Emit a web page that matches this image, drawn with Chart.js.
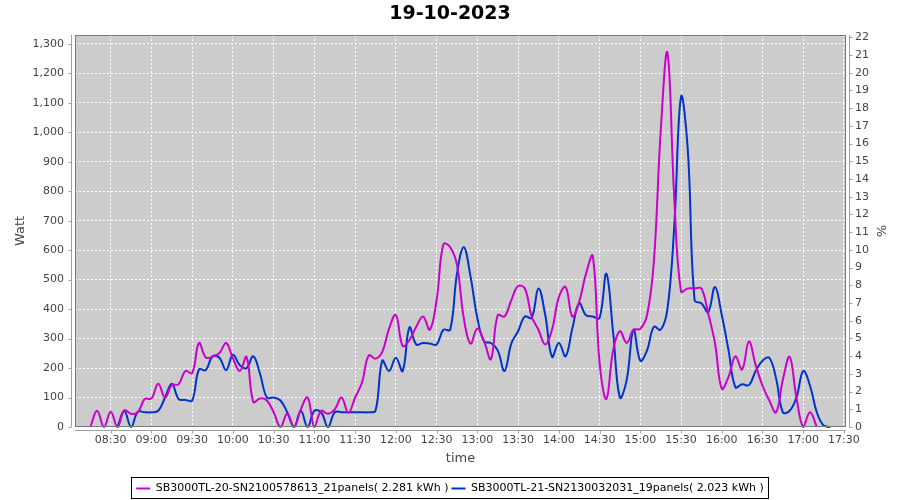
<!DOCTYPE html>
<html>
<head>
<meta charset="utf-8">
<script src="https://cdn.jsdelivr.net/npm/chart.js@4.4.0/dist/chart.umd.min.js"></script>
<style>
  html, body { margin: 0; padding: 0; background: #fff; }
</style>
</head>
<body>
<canvas id="chart" width="900" height="500"></canvas>
<script>
'use strict';

const chartTitle  = '19-10-2023';
const seriesNames = [
  'SB3000TL-20-SN2100578613_21panels( 2.281 kWh )',
  'SB3000TL-21-SN2130032031_19panels( 2.023 kWh )',
];

// samples every 5 minutes
const times = [
  '08:15','08:20','08:25','08:30','08:35','08:40','08:45','08:50','08:55',
  '09:00','09:05','09:10','09:15','09:20','09:25','09:30','09:35','09:40','09:45','09:50','09:55',
  '10:00','10:05','10:10','10:15','10:20','10:25','10:30','10:35','10:40','10:45','10:50','10:55',
  '11:00','11:05','11:10','11:15','11:20','11:25','11:30','11:35','11:40','11:45','11:50','11:55',
  '12:00','12:05','12:10','12:15','12:20','12:25','12:30','12:35','12:40','12:45','12:50','12:55',
  '13:00','13:05','13:10','13:15','13:20','13:25','13:30','13:35','13:40','13:45','13:50','13:55',
  '14:00','14:05','14:10','14:15','14:20','14:25','14:30','14:35','14:40','14:45','14:50','14:55',
  '15:00','15:05','15:10','15:15','15:20','15:25','15:30','15:35','15:40','15:45','15:50','15:55',
  '16:00','16:05','16:10','16:15','16:20','16:25','16:30','16:35','16:40','16:45','16:50','16:55',
  '17:00','17:05','17:10','17:15','17:20',
];

const sb20Watt = [
  0, 55, 0, 52, 0, 57, 45, 50, 95,
  97, 147, 100, 142, 145, 190, 183, 285, 236, 238, 250, 285,
  233, 190, 238, 85, 97, 90, 50, 0, 45, 0, 60, 100,
  0, 55, 45, 60, 100, 48, 100, 150, 243, 232, 255, 334,
  380, 275, 295, 340, 375, 330, 430, 620, 610, 550, 370, 283,
  334, 290, 230, 379, 375, 430, 478, 470, 375, 330, 280, 330,
  440, 475, 375, 425, 520, 580, 220, 95, 260, 325, 285, 330,
  333, 380, 560, 1000, 1270, 780, 460, 470, 470, 470, 385, 285,
  130, 170, 240, 195, 290, 210, 140, 90, 50, 160, 238, 100,
  0, 50, 0, null, null,
];

const sb21Watt = [
  null, null, null, null, 0, 54, 0, 52, 50,
  50, 55, 100, 147, 95, 92, 90, 195, 193, 240, 235, 193,
  245, 210, 200, 240, 180, 100, 100, 90, 50, 0, 55, 0,
  55, 50, 0, 50, 50, 50, 50, 50, 50, 55, 225, 190,
  235, 190, 338, 280, 285, 283, 280, 330, 330, 520, 610, 510,
  370, 290, 285, 260, 190, 283, 325, 375, 370, 470, 380, 238,
  285, 240, 335, 420, 379, 375, 370, 520, 320, 100, 160, 330,
  225, 260, 340, 330, 400, 680, 1120, 940, 430, 420, 390, 475,
  380, 260, 135, 145, 142, 190, 225, 235, 165, 50, 55, 100,
  190, 140, 50, 5, 0,
];

const timeTicks = [
  '08:30','09:00','09:30','10:00','10:30','11:00','11:30','12:00','12:30','13:00',
  '13:30','14:00','14:30','15:00','15:30','16:00','16:30','17:00','17:30',
];
const wattTicks = [0, 100, 200, 300, 400, 500, 600, 700, 800, 900, 1000, 1100, 1200, 1300];
const pctTicks  = [0, 1, 2, 3, 4, 5, 6, 7, 8, 9, 10, 11, 12, 13, 14, 15, 16, 17, 18, 19, 20, 21, 22];

const FONT = 'DejaVu Sans';

function toMin(s) {
  const [h, m] = s.split(':').map(Number);
  return h * 60 + m;
}

function fmtMin(v) {
  const h = Math.floor(v / 60);
  const m = Math.round(v - h * 60);
  return String(h).padStart(2, '0') + ':' + String(m).padStart(2, '0');
}

function points(values) {
  return times.map((t, i) => ({ x: toMin(t), y: values[i] }));
}

// plot background, outline, offset axis lines, legend box
const framePlugin = {
  id: 'frame',
  afterLayout(chart) {
    chart.legend.top    += 4;
    chart.legend.bottom += 4;
  },
  beforeDraw(chart) {
    const { ctx, chartArea: a } = chart;
    ctx.save();
    ctx.fillStyle = '#cccccc';
    ctx.fillRect(a.left, a.top, a.right - a.left, a.bottom - a.top);
    ctx.restore();
  },
  afterDraw(chart) {
    const { ctx, chartArea: a, scales } = chart;
    ctx.save();
    ctx.lineWidth = 1;

    ctx.strokeStyle = '#7a7a7a';
    ctx.strokeRect(a.left + 0.5, a.top + 0.5, a.right - a.left - 1, a.bottom - a.top - 1);

    const lx = Math.round(a.left) - 3.5;
    const rx = Math.round(a.right) + 3.5;
    const by = Math.round(a.bottom) + 3.5;
    ctx.strokeStyle = '#a0a0a0';
    ctx.beginPath();
    ctx.moveTo(lx, a.top); ctx.lineTo(lx, a.bottom);
    ctx.moveTo(rx, a.top); ctx.lineTo(rx, a.bottom);
    ctx.moveTo(a.left, by); ctx.lineTo(a.right, by);
    scales.y.ticks.forEach((t, i) => {
      const y = Math.round(scales.y.getPixelForTick(i)) + 0.5;
      ctx.moveTo(lx - 3, y); ctx.lineTo(lx, y);
    });
    scales.y1.ticks.forEach((t, i) => {
      const y = Math.round(scales.y1.getPixelForTick(i)) + 0.5;
      ctx.moveTo(rx, y); ctx.lineTo(rx + 3, y);
    });
    scales.x.ticks.forEach((t, i) => {
      const x = Math.round(scales.x.getPixelForTick(i)) + 0.5;
      ctx.moveTo(x, by); ctx.lineTo(x, by + 3);
    });
    ctx.stroke();

    const boxes = chart.legend.legendHitBoxes;
    if (boxes && boxes.length) {
      const first = boxes[0];
      const last  = boxes[boxes.length - 1];
      const x0 = Math.round(first.left) - 4.5;
      const x1 = Math.round(last.left + last.width) + 4.5;
      const y0 = Math.round(first.top) - 5.5;
      const y1 = Math.round(first.top + first.height) + 4.5;
      ctx.strokeStyle = '#000';
      ctx.strokeRect(x0, y0, x1 - x0, y1 - y0);
    }
    ctx.restore();
  },
};

const tickFont  = { family: FONT, size: 11 };
const titleFont = { family: FONT, size: 13, lineHeight: 1.2 };

new Chart(document.getElementById('chart'), {
  type: 'line',
  data: {
    datasets: [
      {
        label: seriesNames[0],
        data: points(sb20Watt),
        borderColor: '#cc00cc',
        backgroundColor: '#cc00cc',
        borderWidth: 2,
        pointRadius: 0,
        tension: 0.4,
        fill: false,
        clip: 1,
        yAxisID: 'y',
      },
      {
        label: seriesNames[1],
        data: points(sb21Watt),
        borderColor: '#0033cc',
        backgroundColor: '#0033cc',
        borderWidth: 2,
        pointRadius: 0,
        tension: 0.4,
        fill: false,
        clip: 1,
        yAxisID: 'y',
      },
    ],
  },
  options: {
    responsive: false,
    animation: false,
    events: [],
    layout: { padding: 0 },
    plugins: {
      title: {
        display: true,
        text: chartTitle,
        color: '#000',
        font: { family: FONT, size: 19, weight: 'bold', lineHeight: 1.2 },
        padding: { top: 3, bottom: 9.2 },
      },
      legend: {
        position: 'bottom',
        labels: {
          usePointStyle: true,
          pointStyle: 'line',
          pointStyleWidth: 14,
          boxHeight: 11,
          padding: 3,
          color: '#000',
          font: { family: FONT, size: 11 },
        },
      },
      tooltip: { enabled: false },
    },
    scales: {
      x: {
        type: 'linear',
        min: 483.7,
        max: 1051.5,
        afterBuildTicks: s => { s.ticks = timeTicks.map(t => ({ value: toMin(t) })); },
        afterFit: s => { s.height = 49; },
        ticks: {
          color: '#444',
          font: tickFont,
          padding: 7,
          maxRotation: 0,
          autoSkip: false,
          callback: v => fmtMin(v),
        },
        grid: { color: '#ffffff', lineWidth: 1, drawTicks: false },
        border: { display: false, dash: [2, 2] },
        title: {
          display: true,
          text: 'time',
          color: '#444',
          font: titleFont,
          padding: { top: 0, bottom: 9.2 },
        },
      },
      y: {
        type: 'linear',
        position: 'left',
        min: 0,
        max: 1330,
        afterBuildTicks: s => { s.ticks = wattTicks.map(v => ({ value: v })); },
        afterFit: s => { s.width = 75; },
        ticks: {
          color: '#444',
          font: tickFont,
          padding: 11,
          callback: v => v.toLocaleString('en-US'),
        },
        grid: { color: '#ffffff', lineWidth: 1, drawTicks: false },
        border: { display: false, dash: [2, 2] },
        title: {
          display: true,
          text: 'Watt',
          color: '#444',
          font: titleFont,
          padding: { top: 13, bottom: 0 },
        },
      },
      y1: {
        type: 'linear',
        position: 'right',
        min: 0,
        max: 22.13,
        afterBuildTicks: s => { s.ticks = pctTicks.map(v => ({ value: v })); },
        afterFit: s => { s.width = 54; },
        ticks: {
          color: '#444',
          font: tickFont,
          padding: 9,
          callback: v => String(v),
        },
        grid: { display: false, drawTicks: false },
        border: { display: false },
        title: {
          display: true,
          text: '%',
          color: '#444',
          font: titleFont,
          padding: { top: 12, bottom: 0 },
        },
      },
    },
  },
  plugins: [framePlugin],
});
</script>
</body>
</html>
